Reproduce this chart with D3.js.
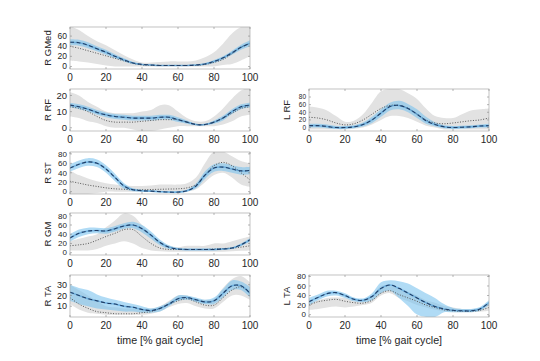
<!DOCTYPE html>
<html><head><meta charset="utf-8">
<script src="https://cdn.jsdelivr.net/npm/d3@7"></script>
<style>body{margin:0;background:#fff}svg{display:block}</style>
</head><body>
<script>
const gaitX = [0,5,10,15,20,25,30,35,40,45,50,55,60,65,70,75,80,85,90,95,100];
const xTicks = [0,20,40,60,80,100];

// R GMed
const gmedMean = [48,47,42,35,28,20,13,7,4,3,2,2,2,2,3,5,10,17,27,38,46];
const gmedBLo  = [42,41,36,30,23,16,10,5,3,2,1,1,1,1,2,3,7,14,23,33,40];
const gmedBHi  = [54,53,48,40,33,24,16,9,5,4,3,3,3,3,4,7,13,20,31,43,52];
const gmedGLo  = [12,10,8,5,2,0,0,0,0,0,0,0,0,0,0,0,0,3,5,12,20];
const gmedGHi  = [80,72,60,50,42,32,22,14,8,8,9,10,10,10,12,18,28,45,65,78,80];
const gmedRef  = [40,36,31,26,21,16,11,6,3,2,2,2,2,2,2,4,8,14,25,38,45];
// R RF
const rrfMean = [14,13,11.5,9.5,8,7,6.5,6,6,6,6.5,6.5,5,3.5,2,2,3.5,6,10,13,14];
const rrfBLo  = [12.5,11.5,10,8,6.5,5.5,5,4.5,4.5,4.5,5,5,3.5,2.5,1.5,1.5,2.5,4.5,8.5,11.5,12.5];
const rrfBHi  = [15.5,14.5,13,11,9.5,8.5,8,7.5,7.5,7.5,8,8,6.5,4.5,2.5,2.5,4.5,7.5,11.5,14.5,15.5];
const rrfGLo  = [7,6,4,3,1,0,0,-1,-2,-2,-1,0,1,1,1,1,1,2,4,7,8];
const rrfGHi  = [22,20,16,13,10,9,9,9,10,11,14,14,10,6,4,4,7,12,18,23,25];
const rrfRef  = [13,12,10,7,4.5,3.5,3.5,3.5,4,4.5,5,5,5,3.5,2,2,3.5,6,9,12,13];
// R ST
const rstMean = [50,58,63,60,48,30,12,4,2,1,0,-1,-1,2,12,35,50,52,48,44,45];
const rstBLo  = [42,50,55,52,40,22,6,1,0,-1,-2,-3,-3,0,7,27,42,44,40,36,37];
const rstBHi  = [58,66,71,68,56,38,18,7,4,3,2,1,1,4,17,43,58,60,56,52,53];
const rstGLo  = [-5,-5,-5,-3,0,0,0,0,0,0,0,0,0,0,5,20,35,40,30,15,10];
const rstGHi  = [45,35,28,22,18,15,13,12,12,13,15,15,15,18,30,60,85,85,75,65,60];
const rstRef  = [22,18,14,11,8,6,5,4,4,4.5,5,5.5,6,8,15,35,55,62,55,40,25];
// R GM
const rgmMean = [32,42,47,48,47,52,58,60,52,38,22,12,8,7,7,7,7,8,10,17,28];
const rgmBLo  = [24,34,40,42,41,46,52,53,44,30,16,8,6,5,5,5,5,6,8,14,24];
const rgmBHi  = [40,50,54,54,53,58,64,67,60,46,28,16,10,9,9,9,9,10,12,20,32];
const rgmGLo  = [5,5,5,8,15,20,25,20,10,5,3,2,2,2,2,2,2,2,3,4,5];
const rgmGHi  = [25,30,35,40,55,70,85,80,60,40,25,15,12,15,15,15,20,20,25,30,35];
const rgmRef  = [15,17,20,27,35,42,50,50,35,20,10,7,7,7,7,7,8,9,10,12,15];
// R TA
const rtaMean = [23,20,17,15,13,12,10,9,7,6,8,12,17,18,16,14,15,22,29,29,22];
const rtaBLo  = [15,12,10,8,7,6,5,5,4,4,5,10,15,16,14,12,12,18,25,25,18];
const rtaBHi  = [30,27,25,21,18,16,14,12,10,8,10,14,20,20,18,16,18,26,34,33,28];
const rtaGLo  = [12,7,4,3,2,2,2,2,2,3,5,9,12,13,10,8,8,14,20,20,16];
const rtaGHi  = [30,25,20,15,10,9,8,8,8,8,10,15,20,20,17,16,17,27,35,38,32];
const rtaRef  = [18,12,8,5,4,3,3,3,4,5,8,12,15,17,14,11,11,18,25,28,22];
// L RF
const lrfMean = [5,5,3,0,0,2,8,20,38,55,58,50,35,18,8,2,0,1,2,4,5];
const lrfBLo  = [0,0,-2,-4,-4,-2,3,12,28,45,48,40,25,10,3,-2,-4,-3,-2,0,0];
const lrfBHi  = [10,10,8,4,4,6,13,28,48,65,70,62,48,28,14,6,4,5,6,8,10];
const lrfGLo  = [-5,-5,-5,-5,-5,-3,0,8,20,30,30,25,15,5,0,-5,-5,-5,-5,-5,-5];
const lrfGHi  = [55,52,45,30,15,18,35,65,95,101,101,90,75,50,30,25,25,35,45,48,50];
const lrfRef  = [27,25,20,12,7,10,20,35,50,58,58,50,35,20,12,10,12,15,18,20,25];
// L TA
const ltaMean = [27,36,44,46,40,32,30,38,55,62,55,45,35,25,17,12,9,8,8,12,25];
const ltaBLo  = [20,30,38,40,35,28,26,30,45,50,35,18,0,-5,-5,5,5,5,5,8,20];
const ltaBHi  = [35,42,50,50,45,36,34,45,68,72,70,65,55,45,35,22,14,12,12,16,30];
const ltaGLo  = [10,12,15,17,15,17,20,25,40,45,35,28,20,15,10,7,5,5,5,6,8];
const ltaGHi  = [25,30,35,36,35,30,30,38,60,60,55,48,40,30,25,18,15,12,12,14,20];
const ltaRef  = [20,27,30,32,28,25,24,30,45,50,42,35,28,20,15,10,8,7,7,9,15];

const panelLabels = ["R GMed","R RF","R ST","R GM","R TA","L RF","L TA"];
const yTickSets = [[0,20,40,60],[0,10,20],[0,20,40,60,80],[0,20,40,60,80],[10,20,30],[0,20,40,60,80],[0,20,40,60,80]];
const yDomains = [[-5,78],[-2,24],[-5,84],[-5,86],[0,39],[-9,101],[-5,83]];
const xLabelText = "time [% gait cycle]";

const panels = [
  {mean:gmedMean,bLo:gmedBLo,bHi:gmedBHi,gLo:gmedGLo,gHi:gmedGHi,ref:gmedRef,col:0,row:0},
  {mean:rrfMean,bLo:rrfBLo,bHi:rrfBHi,gLo:rrfGLo,gHi:rrfGHi,ref:rrfRef,col:0,row:1},
  {mean:rstMean,bLo:rstBLo,bHi:rstBHi,gLo:rstGLo,gHi:rstGHi,ref:rstRef,col:0,row:2},
  {mean:rgmMean,bLo:rgmBLo,bHi:rgmBHi,gLo:rgmGLo,gHi:rgmGHi,ref:rgmRef,col:0,row:3},
  {mean:rtaMean,bLo:rtaBLo,bHi:rtaBHi,gLo:rtaGLo,gHi:rtaGHi,ref:rtaRef,col:0,row:4,xlab:true},
  {mean:lrfMean,bLo:lrfBLo,bHi:lrfBHi,gLo:lrfGLo,gHi:lrfGHi,ref:lrfRef,col:1,row:1},
  {mean:ltaMean,bLo:ltaBLo,bHi:ltaBHi,gLo:ltaGLo,gHi:ltaGHi,ref:ltaRef,col:1,row:4,xlab:true}
];

const W = 540, H = 361;
const colX = [[70,250],[309,489]];
const rowTop = [27,89,152,213,275];
const ph = 42;
const font = "'Liberation Sans', Arial, Helvetica, sans-serif";
const axisCol = "#262626";

const svg = d3.select("body").append("svg").attr("width",W).attr("height",H)
  .style("font-family",font);

panels.forEach((p,i)=>{
  const [x0,x1] = colX[p.col];
  const y0 = rowTop[p.row], y1 = y0 + ph;
  const x = d3.scaleLinear().domain([0,100]).range([x0,x1]);
  const y = d3.scaleLinear().domain(yDomains[i]).range([y1,y0]);
  const g = svg.append("g");
  const cid = "clip"+i;
  g.append("clipPath").attr("id",cid).append("rect")
    .attr("x",x0).attr("y",y0).attr("width",x1-x0).attr("height",y1-y0);
  const plot = g.append("g").attr("clip-path",`url(#${cid})`);
  const idx = d3.range(gaitX.length);
  const area = (lo,hi)=>d3.area().x(k=>x(gaitX[k])).y0(k=>y(lo[k])).y1(k=>y(hi[k])).curve(d3.curveCatmullRom);
  const line = arr=>d3.line().x(k=>x(gaitX[k])).y(k=>y(arr[k])).curve(d3.curveCatmullRom);
  plot.append("path").attr("d",area(p.gLo,p.gHi)(idx)).attr("fill","#e2e2e2");
  plot.append("path").attr("d",area(p.bLo,p.bHi)(idx)).attr("fill","#7cc3ee").attr("opacity",0.6);
  plot.append("path").attr("d",line(p.ref)(idx)).attr("fill","none").attr("stroke","#555")
    .attr("stroke-width",1).attr("stroke-dasharray","1,1.6");
  plot.append("path").attr("d",line(p.mean)(idx)).attr("fill","none").attr("stroke","#4a98d4")
    .attr("stroke-width",1.5).attr("opacity",0.6);
  plot.append("path").attr("d",line(p.mean)(idx)).attr("fill","none").attr("stroke","#1f3d66")
    .attr("stroke-width",1.1).attr("stroke-dasharray","4,2.5");

  g.append("rect").attr("x",x0).attr("y",y0).attr("width",x1-x0).attr("height",y1-y0)
    .attr("fill","none").attr("stroke","#a8a8a8").attr("stroke-width",0.7);
  const tl = 2;
  xTicks.forEach(t=>{
    g.append("line").attr("x1",x(t)).attr("x2",x(t)).attr("y1",y1).attr("y2",y1-tl).attr("stroke","#888").attr("stroke-width",0.6);
    g.append("line").attr("x1",x(t)).attr("x2",x(t)).attr("y1",y0).attr("y2",y0+tl).attr("stroke","#888").attr("stroke-width",0.6);
    g.append("text").attr("x",x(t)).attr("y",y1+12).attr("text-anchor","middle")
      .attr("font-size",10).attr("fill",axisCol).text(t);
  });
  // shrink tick labels so that neighbours do not collide
  const spacing = Math.abs(y(yTickSets[i][1]) - y(yTickSets[i][0]));
  const yfs = Math.min(9.5, Math.floor(spacing / 1.15 * 2) / 2);
  yTickSets[i].forEach(t=>{
    g.append("line").attr("x1",x0).attr("x2",x0+tl).attr("y1",y(t)).attr("y2",y(t)).attr("stroke","#888").attr("stroke-width",0.6);
    g.append("line").attr("x1",x1).attr("x2",x1-tl).attr("y1",y(t)).attr("y2",y(t)).attr("stroke","#888").attr("stroke-width",0.6);
    g.append("text").attr("x",x0-3).attr("y",y(t)).attr("dy","0.35em").attr("text-anchor","end")
      .attr("font-size",yfs).attr("fill",axisCol).text(t);
  });
  g.append("text").attr("transform",`translate(${x0-19},${(y0+y1)/2}) rotate(-90)`)
    .attr("text-anchor","middle").attr("font-size",9.5).attr("fill",axisCol).text(panelLabels[i]);
  if(p.xlab){
    g.append("text").attr("x",(x0+x1)/2).attr("y",y1+27).attr("text-anchor","middle")
      .attr("font-size",10.7).attr("fill",axisCol).text(xLabelText);
  }
});
</script>
</body></html>
